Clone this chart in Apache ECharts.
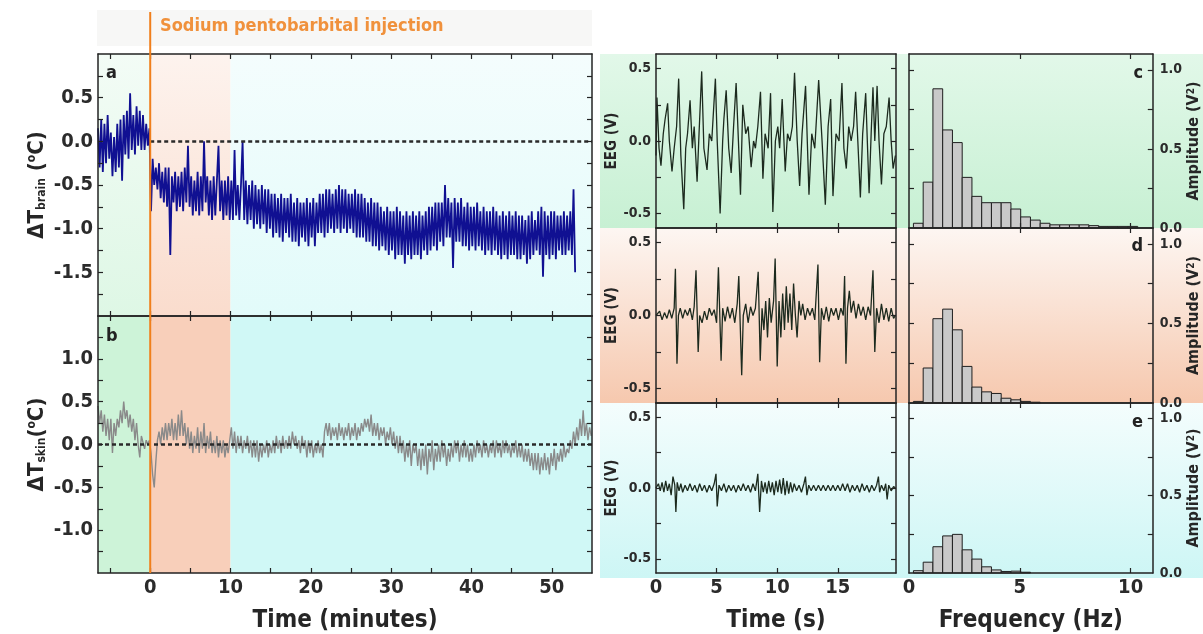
<!DOCTYPE html>
<html>
<head>
<meta charset="utf-8">
<script src="https://cdn.jsdelivr.net/npm/echarts@6/dist/echarts.min.js"></script>
<style>
html,body{margin:0;padding:0;background:#fff;}
#chart{width:1203px;height:634px;}
</style>
</head>
<body>
<div id="chart"></div>
<script>
/********* data *********/
// a: brain temperature (sampled every 0.2 min from -6.5 min)
var brainStart = -6.5, brainStep = 0.2;
var brainTemp = [
	0.15, -0.3, 0.25,
	-0.35, 0.2, -0.25, 0.3, -0.2,
	0.1, -0.4, 0.05, -0.35, 0.2,
	-0.3, 0.25, -0.45, 0.3, -0.15,
	0.35, -0.2, 0.55, -0.1, 0.3,
	-0.15, 0.4, -0.05, 0.35, -0.1,
	0.3, -0.1, 0.2, -0.05, 0.15,
	-0.8, -0.2, -0.5, -0.3, -0.55,
	-0.25, -0.65, -0.35, -0.7, -0.3,
	-0.75, -0.3, -1.3, -0.4, -0.7,
	-0.35, -0.8, -0.4, -0.75, -0.35,
	-0.8, -0.3, -0.7, -0.05, -0.75,
	-0.4, -0.85, -0.45, -0.8, -0.35,
	-0.85, -0.4, -0.8, 0.0, -0.7,
	-0.4, -0.85, -0.45, -0.9, -0.4,
	-0.85, -0.45, -0.05, -0.8, -0.45,
	-0.9, -0.45, -0.85, -0.4, -0.9,
	-0.45, -0.9, -0.1, -0.85, -0.5,
	-0.9, -0.5, 0.0, -0.9, -0.45,
	-0.95, -0.5, -0.9, -0.45, -1.0,
	-0.5, -0.95, -0.55, -1.0, -0.5,
	-0.95, -0.55, -1.05, -0.55, -1.0,
	-0.6, -1.1, -0.6, -1.05, -0.65,
	-1.1, -0.6, -1.15, -0.65, -1.05,
	-0.65, -1.1, -0.6, -1.15, -0.7,
	-1.15, -0.65, -1.2, -0.7, -1.1,
	-0.7, -1.15, -0.65, -1.2, -0.7,
	-1.1, -0.65, -1.2, -0.7, -1.05,
	-0.6, -1.05, -0.6, -1.1, -0.55,
	-1.05, -0.55, -1.0, -0.6, -1.05,
	-0.55, -1.0, -0.5, -1.05, -0.55,
	-1.0, -0.55, -1.05, -0.6, -1.0,
	-0.6, -1.05, -0.55, -1.1, -0.6,
	-1.1, -0.6, -1.1, -0.65, -1.15,
	-0.7, -1.15, -0.65, -1.2, -0.7,
	-1.2, -0.7, -1.25, -0.75, -1.2,
	-0.8, -1.25, -0.75, -1.3, -0.8,
	-1.25, -0.8, -1.35, -0.75, -1.3,
	-0.8, -1.3, -0.85, -1.4, -0.8,
	-1.3, -0.85, -1.35, -0.8, -1.3,
	-0.85, -1.3, -0.8, -1.35, -0.85,
	-1.25, -0.8, -1.3, -0.75, -1.25,
	-0.75, -1.2, -0.7, -1.25, -0.7,
	-1.15, -0.7, -1.2, -0.5, -1.1,
	-0.65, -1.1, -0.7, -1.45, -0.65,
	-1.15, -0.7, -1.15, -0.65, -1.2,
	-0.75, -1.2, -0.7, -1.25, -0.75,
	-1.2, -0.75, -1.25, -0.7, -1.2,
	-0.8, -1.25, -0.75, -1.3, -0.8,
	-1.25, -0.8, -1.3, -0.75, -1.25,
	-0.8, -1.3, -0.85, -1.35, -0.8,
	-1.3, -0.85, -1.35, -0.8, -1.3,
	-0.85, -1.3, -0.8, -1.35, -0.85,
	-1.35, -0.85, -1.3, -0.9, -1.4,
	-0.85, -1.35, -0.8, -1.3, -0.9,
	-1.25, -0.8, -1.3, -0.75, -1.55,
	-0.8, -1.3, -0.85, -1.35, -0.8,
	-1.3, -0.8, -1.35, -0.85, -1.25,
	-0.85, -1.3, -0.8, -1.3, -0.85,
	-1.25, -0.8, -1.3, -0.55, -1.5
];
// b: skin temperature (sampled every 0.2 min from -6.5 min)
var skinStart = -6.5, skinStep = 0.2;
var skinTemp = [
	0.45, 0.25, 0.4,
	0.15, 0.35, 0.1, 0.3, 0.05,
	0.3, -0.1, 0.25, 0.1, 0.3,
	0.2, 0.4, 0.25, 0.5, 0.3,
	0.4, 0.2, 0.35, 0.15, 0.3,
	0.05, 0.25, 0.0, -0.15, 0.1,
	0.1, -0.05, 0.05, 0.0, 0.05,
	-0.1, -0.35, -0.5, -0.2, 0.05,
	0.15, 0.0, 0.2, 0.05, 0.25,
	0.05, 0.25, 0.1, 0.3, 0.05,
	0.25, 0.05, 0.35, 0.1, 0.4,
	0.1, 0.25, 0.0, 0.2, -0.05,
	0.15, -0.1, 0.1, -0.05, 0.2,
	-0.1, 0.15, -0.05, 0.25, -0.1,
	0.1, -0.05, 0.15, -0.1, 0.05,
	-0.1, 0.1, -0.15, 0.05, -0.1,
	0.05, -0.15, 0.0, -0.1, 0.05,
	0.2, -0.05, 0.15, -0.1, 0.1,
	-0.05, 0.1, -0.1, 0.05, -0.05,
	0.1, -0.1, 0.05, -0.15, 0.05,
	-0.15, 0.05, -0.2, 0.0, -0.15,
	0.0, -0.1, 0.05, -0.15, 0.0,
	-0.1, 0.05, -0.1, 0.1, -0.05,
	0.05, -0.1, 0.1, -0.05, 0.05,
	-0.05, 0.1, -0.05, 0.15, 0.0,
	0.1, -0.05, 0.05, -0.1, 0.1,
	-0.05, 0.05, -0.15, 0.05, -0.1,
	0.05, -0.15, 0.0, -0.1, 0.05,
	-0.1, 0.0, -0.15, 0.15, 0.25,
	0.1, 0.25, 0.05, 0.2, 0.1,
	0.2, 0.05, 0.25, 0.1, 0.2,
	0.05, 0.2, 0.1, 0.25, 0.05,
	0.2, 0.1, 0.25, 0.05, 0.2,
	0.1, 0.25, 0.15, 0.3, 0.2,
	0.3, 0.15, 0.35, 0.1, 0.25,
	0.1, 0.25, 0.05, 0.2, 0.1,
	0.2, 0.0, 0.15, 0.05, 0.2,
	0.0, 0.15, -0.05, 0.1, -0.1,
	0.1, -0.1, 0.05, -0.2, 0.0,
	-0.15, 0.05, -0.25, 0.0, -0.1,
	0.0, -0.25, -0.05, -0.3, -0.05,
	-0.25, 0.0, -0.35, -0.05, -0.2,
	0.05, -0.3, -0.05, -0.2, 0.0,
	-0.2, 0.05, -0.15, 0.0, -0.25,
	-0.05, -0.2, 0.0, -0.15, 0.05,
	-0.1, 0.05, -0.2, 0.0, -0.15,
	0.05, -0.15, 0.0, -0.2, -0.05,
	-0.2, 0.0, -0.15, 0.05, -0.1,
	0.0, -0.15, 0.05, -0.1, 0.0,
	-0.15, 0.0, -0.1, 0.05, -0.15,
	0.05, -0.1, 0.0, -0.15, 0.05,
	-0.1, 0.05, -0.1, 0.0, -0.15,
	0.0, -0.1, 0.05, -0.15, 0.0,
	-0.15, 0.0, -0.2, -0.05, -0.2,
	-0.05, -0.25, -0.1, -0.3, -0.1,
	-0.3, -0.1, -0.35, -0.15, -0.3,
	-0.1, -0.3, -0.15, -0.35, -0.1,
	-0.25, -0.05, -0.3, -0.1, -0.2,
	-0.05, -0.2, 0.0, -0.15, -0.05,
	-0.1, 0.05, -0.05, 0.15, 0.0,
	0.2, 0.05, 0.3, 0.1, 0.4,
	0.1, 0.25, 0.05, 0.2, 0.1
];
// c, d, e: EEG traces [time s, V]
var eegAwake = [
	[0.0,-0.1],[0.08,0.3],[0.25,-0.05],[0.41,-0.17],[0.6,0.05],[0.75,0.15],[0.96,0.26],[1.1,0.0],
	[1.32,-0.21],[1.5,-0.05],[1.7,0.1],[1.87,0.43],[2.05,-0.1],[2.29,-0.47],[2.45,-0.05],[2.6,0.05],
	[2.81,0.28],[3.0,-0.05],[3.15,0.1],[3.39,-0.28],[3.55,0.05],[3.77,0.48],[3.95,-0.05],[4.21,-0.2],
	[4.4,0.05],[4.6,0.0],[4.9,0.43],[5.05,0.0],[5.29,-0.5],[5.5,0.0],[5.6,0.15],[5.79,0.35],
	[6.0,-0.05],[6.2,-0.22],[6.4,0.1],[6.61,0.4],[6.8,0.0],[6.97,-0.37],[7.16,0.25],[7.4,0.05],
	[7.6,0.1],[7.85,-0.18],[8.05,0.0],[8.2,-0.05],[8.4,0.1],[8.62,0.34],[8.82,-0.26],[9.0,0.05],
	[9.25,-0.05],[9.45,0.33],[9.64,-0.49],[9.85,0.0],[10.05,0.1],[10.2,-0.05],[10.41,0.29],[10.66,-0.21],
	[10.85,0.05],[11.05,0.0],[11.25,0.1],[11.43,0.47],[11.65,0.0],[11.85,-0.31],[12.05,0.05],[12.34,0.38],
	[12.62,-0.37],[12.85,0.05],[13.1,-0.05],[13.42,0.42],[13.7,0.0],[13.97,-0.44],[14.2,0.1],[14.41,0.29],
	[14.6,-0.38],[14.85,0.05],[15.1,0.0],[15.34,0.4],[15.5,-0.05],[15.7,-0.19],[15.9,0.1],[16.1,0.0],
	[16.3,0.1],[16.47,0.34],[16.65,0.0],[16.86,-0.39],[17.05,0.05],[17.3,0.33],[17.58,-0.36],[17.75,0.05],
	[17.9,0.37],[18.05,0.0],[18.24,0.38],[18.4,0.0],[18.6,-0.3],[18.8,0.05],[19.0,0.1],[19.23,0.3],
	[19.4,0.0],[19.56,-0.19],[19.75,-0.1]
];
var eegInjection = [
	[0.0,0.0],[0.3,0.03],[0.5,-0.03],[0.7,0.02],[0.9,-0.02],[1.1,0.04],[1.3,-0.02],[1.5,0.05],
	[1.6,0.32],[1.73,-0.33],[1.85,0.0],[2.0,0.05],[2.2,-0.02],[2.4,0.04],[2.6,0.0],[2.8,0.05],
	[3.0,-0.03],[3.15,0.06],[3.3,0.31],[3.48,-0.25],[3.6,0.0],[3.8,-0.05],[4.0,0.03],[4.2,-0.03],
	[4.4,0.05],[4.6,0.0],[4.8,0.04],[5.0,-0.05],[5.15,0.33],[5.37,-0.31],[5.5,0.05],[5.7,-0.04],
	[5.9,0.06],[6.1,-0.02],[6.3,0.05],[6.5,-0.05],[6.7,0.08],[6.83,0.27],[7.07,-0.41],[7.2,0.0],
	[7.4,0.08],[7.6,-0.05],[7.8,0.06],[8.0,0.0],[8.2,0.05],[8.43,0.3],[8.6,-0.31],[8.75,0.05],
	[8.9,-0.1],[9.05,0.1],[9.2,-0.15],[9.35,0.12],[9.5,-0.05],[9.7,0.1],[9.83,0.39],[10.0,-0.35],
	[10.15,0.1],[10.3,-0.15],[10.45,0.15],[10.6,-0.1],[10.75,0.2],[10.9,-0.05],[11.05,0.15],[11.2,-0.1],
	[11.35,0.22],[11.5,0.0],[11.64,-0.15],[11.8,0.1],[11.95,0.0],[12.1,0.08],[12.3,-0.03],[12.5,0.05],
	[12.7,0.0],[12.9,0.05],[13.1,-0.03],[13.36,0.35],[13.5,-0.32],[13.65,0.05],[13.85,-0.03],[14.05,0.06],
	[14.25,-0.04],[14.45,0.05],[14.65,0.0],[14.85,0.05],[15.05,-0.03],[15.25,0.05],[15.45,0.0],[15.56,0.27],
	[15.67,-0.33],[15.8,0.05],[15.95,0.17],[16.1,0.02],[16.3,0.1],[16.5,-0.02],[16.7,0.08],[16.9,0.0],
	[17.1,0.06],[17.3,-0.03],[17.5,0.06],[17.7,0.0],[17.9,0.31],[18.05,-0.25],[18.2,0.05],[18.4,-0.05],
	[18.6,0.08],[18.8,-0.03],[19.0,0.05],[19.2,-0.04],[19.4,0.05],[19.6,-0.02],[19.75,0.0]
];
var eegAnesth = [
	[0.0,0.0],[0.2,0.03],[0.35,-0.02],[0.5,0.04],[0.65,-0.03],[0.8,0.05],[0.95,-0.02],[1.1,0.03],
	[1.25,-0.05],[1.4,0.08],[1.55,0.02],[1.64,-0.17],[1.75,0.04],[1.9,-0.02],[2.05,0.03],[2.2,-0.03],
	[2.4,0.02],[2.6,-0.02],[2.8,0.03],[3.0,-0.02],[3.2,0.02],[3.4,-0.03],[3.6,0.03],[3.8,-0.02],
	[4.0,0.02],[4.2,-0.03],[4.4,0.02],[4.6,-0.02],[4.8,0.03],[4.95,0.1],[5.05,-0.13],[5.2,0.02],
	[5.4,-0.02],[5.6,0.03],[5.8,-0.03],[6.0,0.02],[6.2,-0.02],[6.4,0.02],[6.6,-0.03],[6.8,0.02],
	[7.0,-0.02],[7.2,0.03],[7.4,-0.02],[7.6,0.02],[7.8,-0.03],[8.0,0.03],[8.2,-0.02],[8.4,0.1],
	[8.55,-0.17],[8.7,0.05],[8.85,-0.03],[9.0,0.04],[9.15,-0.04],[9.3,0.05],[9.45,-0.03],[9.6,0.04],
	[9.75,-0.05],[9.9,0.05],[10.05,-0.03],[10.2,0.06],[10.35,-0.04],[10.5,0.07],[10.65,-0.05],[10.8,0.05],
	[10.95,-0.04],[11.1,0.04],[11.25,-0.03],[11.4,0.03],[11.6,-0.02],[11.8,0.02],[12.0,-0.03],[12.2,0.03],
	[12.33,0.08],[12.45,-0.05],[12.6,0.02],[12.8,-0.02],[13.0,0.02],[13.2,-0.02],[13.4,0.02],[13.6,-0.02],
	[13.8,0.02],[14.0,-0.02],[14.2,0.02],[14.4,-0.02],[14.6,0.02],[14.8,-0.02],[15.0,0.02],[15.2,-0.02],
	[15.4,0.03],[15.6,-0.02],[15.8,0.03],[16.0,-0.03],[16.2,0.02],[16.4,-0.02],[16.6,0.02],[16.8,-0.03],
	[17.0,0.03],[17.2,-0.02],[17.4,0.02],[17.6,-0.03],[17.8,0.02],[18.0,-0.02],[18.2,0.02],[18.35,0.08],
	[18.45,-0.03],[18.6,0.02],[18.8,-0.02],[18.95,0.03],[19.07,-0.08],[19.2,0.02],[19.4,-0.02],[19.6,0.01],
	[19.75,0.0]
];
// c, d, e: spectra, bins of 0.44 Hz starting at 0.2 Hz
var binStart = 0.2, binWidth = 0.44;
var specAwake = [0.03, 0.29, 0.88, 0.62, 0.54, 0.32, 0.2, 0.16, 0.16, 0.16, 0.12, 0.07, 0.05, 0.03, 0.02, 0.02, 0.02, 0.02, 0.015, 0.01, 0.01, 0.01, 0.01];
var specInjection = [0.01, 0.22, 0.53, 0.59, 0.46, 0.23, 0.1, 0.07, 0.06, 0.03, 0.02, 0.01, 0.005];
var specAnesth = [0.015, 0.07, 0.17, 0.24, 0.25, 0.15, 0.09, 0.04, 0.02, 0.01, 0.012, 0.005];

// phases (minutes) and tick values
var phaseEdges = [-6.5, 0, 10, 55];
var minuteLabels = [0, 10, 20, 30, 40, 50];
var minuteTicks = [-5, 0, 5, 10, 15, 20, 25, 30, 35, 40, 45, 50];
var brainLabels = [-1.5, -1.0, -0.5, 0.0, 0.5];
var brainTicks = [-1.75, -1.5, -1.25, -1.0, -0.75, -0.5, -0.25, 0, 0.25, 0.5, 0.75];
var skinLabels = [-1.0, -0.5, 0.0, 0.5, 1.0];
var skinTicks = [-1.25, -1.0, -0.75, -0.5, -0.25, 0, 0.25, 0.5, 0.75, 1.0, 1.25];
var eegLabels = [-0.5, 0.0, 0.5];
var eegTicks = [-0.5, -0.25, 0, 0.25, 0.5];
var secLabels = [0, 5, 10, 15];
var secTicks = [5, 10, 15];
var hzLabels = [0, 5, 10];
var hzTicks = [5, 10];
var ampLabels = [0.0, 0.5, 1.0];
var ampTicks = [0.25, 0.5, 0.75, 1.0];

/********* helpers *********/
var FONT = "'Liberation Sans Narrow','DejaVu Sans Condensed',sans-serif";
var INK = '#232323';

function sampled(start, step, vals) {
	return vals.map(function (v, i) { return [Math.round((start + i * step) * 100) / 100, v]; });
}
function bins(vals) {
	return vals.map(function (v, i) { var x0 = binStart + i * binWidth; return [x0, x0 + binWidth, v]; });
}
function axis(grid, pos, min, max, ticks, labels, labelSize, fmt) {
	var ax = {
		type: 'value', gridIndex: grid, position: pos, min: min, max: max, z: 20,
		axisLine: { show: true, onZero: false, lineStyle: { color: INK, width: 1.5 } },
		axisTick: { show: true, inside: true, length: 5, customValues: ticks, lineStyle: { color: INK, width: 1.2 } },
		axisLabel: { show: false },
		splitLine: { show: false }
	};
	if (labels) {
		ax.axisLabel = {
			show: true, customValues: labels, color: '#2b2b2b', fontFamily: FONT, fontWeight: 'bold',
			fontSize: labelSize, margin: 5,
			formatter: fmt || function (v) { return String(v); }
		};
	}
	return ax;
}
function oneDec(v) { return v.toFixed(1); }
function yName(text, gap) {
	return {
		name: text, nameLocation: 'middle', nameRotate: 90, nameGap: gap,
		nameTextStyle: {
			color: '#262626', fontFamily: FONT, fontWeight: 'bold',
			rich: {
				m: { fontSize: 22, fontWeight: 'bold', fontFamily: FONT, color: '#262626' },
				s: { fontSize: 12, fontWeight: 'bold', fontFamily: FONT, color: '#262626', verticalAlign: 'bottom' },
				u: { fontSize: 12, fontWeight: 'bold', fontFamily: FONT, color: '#262626', verticalAlign: 'top' },
				e: { fontSize: 15, fontWeight: 'bold', fontFamily: FONT, color: '#262626' },
				amp: { fontSize: 16, fontWeight: 'bold', fontFamily: FONT, color: '#262626' },
				eu: { fontSize: 10, fontWeight: 'bold', fontFamily: FONT, color: '#262626', verticalAlign: 'top' }
			}
		}
	};
}
function xName(text, gap) {
	return {
		name: text, nameLocation: 'middle', nameGap: gap,
		nameTextStyle: { color: '#262626', fontFamily: FONT, fontWeight: 'bold', fontSize: 24 }
	};
}
function merge(a, b) { for (var k in b) a[k] = b[k]; return a; }

/********* layout *********/
var grids = [
	{ left: 98, top: 54, width: 494, height: 262 },   // a
	{ left: 98, top: 316, width: 494, height: 263 },  // b
	{ left: 656, top: 54, width: 240, height: 174 },  // c eeg
	{ left: 656, top: 228, width: 240, height: 175 }, // d eeg
	{ left: 656, top: 403, width: 240, height: 175 }, // e eeg
	{ left: 909, top: 54, width: 244, height: 174 },  // c spectrum
	{ left: 909, top: 228, width: 244, height: 175 }, // d spectrum
	{ left: 909, top: 403, width: 244, height: 175 }  // e spectrum
];

var xAxes = [], yAxes = [];
// a
xAxes.push(axis(0, 'bottom', -6.5, 55, minuteTicks));
xAxes.push(axis(0, 'top', -6.5, 55, minuteTicks));
yAxes.push(merge(axis(0, 'left', -2, 1, brainTicks, brainLabels, 20, oneDec),
	yName('{m|ΔT}{s|brain}{m| (}{u|o}{m|C)}', 50)));
yAxes.push(axis(0, 'right', -2, 1, brainTicks));
// b
xAxes.push(merge(axis(1, 'bottom', -6.5, 55, minuteTicks, minuteLabels, 20), xName('Time (minutes)', 36)));
xAxes.push(axis(1, 'top', -6.5, 55, minuteTicks));
yAxes.push(merge(axis(1, 'left', -1.5, 1.5, skinTicks, skinLabels, 20, oneDec),
	yName('{m|ΔT}{s|skin}{m|(}{u|o}{m|C)}', 50)));
yAxes.push(axis(1, 'right', -1.5, 1.5, skinTicks));
// eeg c, d, e
[2, 3, 4].forEach(function (g) {
	var bottom = axis(g, 'bottom', 0, 19.8, secTicks, g === 4 ? secLabels : null, 20);
	if (g === 4) merge(bottom, xName('Time (s)', 36));
	xAxes.push(bottom);
	xAxes.push(axis(g, 'top', 0, 19.8, secTicks));
	yAxes.push(merge(axis(g, 'left', -0.6, 0.6, eegTicks, eegLabels, 14, oneDec), yName('{e|EEG (V)}', 30)));
	yAxes.push(axis(g, 'right', -0.6, 0.6, eegTicks));
});
// spectra c, d, e
[5, 6, 7].forEach(function (g) {
	var bottom = axis(g, 'bottom', 0, 11, hzTicks, g === 7 ? hzLabels : null, 20);
	if (g === 7) merge(bottom, xName('Frequency (Hz)', 36));
	xAxes.push(bottom);
	xAxes.push(axis(g, 'top', 0, 11, hzTicks));
	yAxes.push(axis(g, 'left', 0, 1.1, ampTicks));
	var right = merge(axis(g, 'right', 0, 1.1, ampTicks, ampLabels, 14, oneDec), yName('{amp|Amplitude (V}{eu|2}{amp|)}', 30));
	right.axisLabel.margin = 7;
	yAxes.push(right);
});

/********* series *********/
var green = '#cdf3d8', salmon = '#f8cfba', cyan = '#d0f8f6';
var greenPale = '#f3fcf6', salmonPale = '#fdf3ee', cyanPale = '#f4fdfd';
function fade(top, c) {
	return { type: 'linear', x: 0, y: 0, x2: 0, y2: 1, colorStops: [{ offset: 0, color: top }, { offset: 1, color: c }] };
}
function phaseAreas(faded) {
	var cols = [green, salmon, cyan];
	var pale = [greenPale, salmonPale, cyanPale];
	var lowA = ['#def7e5', '#fadccd', '#e2fbfa'];
	return {
		silent: true,
		data: cols.map(function (c, i) {
			return [{ xAxis: phaseEdges[i], itemStyle: { color: faded ? fade(pale[i], lowA[i]) : c } }, { xAxis: phaseEdges[i + 1] }];
		})
	};
}
var zeroDash = { color: '#2a2a2a', width: 2.5, type: [4, 3] };

function spectrum(g, vals) {
	return {
		type: 'custom', xAxisIndex: 2 * g, yAxisIndex: 2 * g, silent: true,
		data: bins(vals),
		encode: { x: [0, 1], y: 2 },
		renderItem: function (params, api) {
			var p0 = api.coord([api.value(0), api.value(2)]);
			var p1 = api.coord([api.value(1), 0]);
			return {
				type: 'rect',
				shape: { x: p0[0], y: p0[1], width: p1[0] - p0[0], height: p1[1] - p0[1] },
				style: { fill: '#c9c9c9', stroke: '#1f1f1f', lineWidth: 1 }
			};
		}
	};
}
function eeg(g, pts) {
	return {
		type: 'line', xAxisIndex: 2 * g, yAxisIndex: 2 * g, data: pts, symbol: 'none', silent: true,
		lineStyle: { color: '#1c2a1e', width: 1.3 }
	};
}

var series = [
	{
		type: 'line', xAxisIndex: 0, yAxisIndex: 0, data: sampled(brainStart, brainStep, brainTemp),
		symbol: 'none', silent: true, lineStyle: { color: '#101092', width: 1.8 },
		markArea: phaseAreas(true),
		markLine: { silent: true, symbol: 'none', label: { show: false }, lineStyle: zeroDash,
			data: [[{ coord: [0, 0] }, { coord: [55, 0] }]] }
	},
	{
		type: 'line', xAxisIndex: 2, yAxisIndex: 2, data: sampled(skinStart, skinStep, skinTemp),
		symbol: 'none', silent: true, lineStyle: { color: '#8a8a8a', width: 1.4 },
		markArea: phaseAreas(false),
		markLine: { silent: true, symbol: 'none', label: { show: false }, lineStyle: zeroDash,
			data: [[{ coord: [-6.5, 0] }, { coord: [55, 0] }]] }
	},
	eeg(2, eegAwake), eeg(3, eegInjection), eeg(4, eegAnesth),
	spectrum(5, specAwake), spectrum(6, specInjection), spectrum(7, specAnesth)
];

/********* backgrounds and labels *********/
function rowFill(top, bottom) {
	return { type: 'linear', x: 0, y: 0, x2: 0, y2: 1, colorStops: [{ offset: 0, color: top }, { offset: 1, color: bottom }] };
}
var graphics = [
	{ type: 'rect', z: -1, shape: { x: 97, y: 10, width: 495, height: 36 }, style: { fill: '#f7f7f6' } },
	{ type: 'rect', z: -1, shape: { x: 600, y: 54, width: 603, height: 174 }, style: { fill: rowFill('#e2f8e9', '#c7f0d3') } },
	{ type: 'rect', z: -1, shape: { x: 600, y: 228, width: 603, height: 175 }, style: { fill: rowFill('#fdf6f2', '#f6c8ae') } },
	{ type: 'rect', z: -1, shape: { x: 600, y: 403, width: 603, height: 175 }, style: { fill: rowFill('#f4fdfd', '#cdf6f5') } },
	{ type: 'text', z: 100, style: { x: 160, y: 26, text: 'Sodium pentobarbital injection', fill: '#f0913c', font: 'bold 18px ' + FONT, verticalAlign: 'middle' } },
	{ type: 'text', z: 100, style: { x: 106, y: 73, text: 'a', fill: '#222', font: 'bold 18px ' + FONT, verticalAlign: 'middle' } },
	{ type: 'text', z: 100, style: { x: 106, y: 336, text: 'b', fill: '#222', font: 'bold 18px ' + FONT, verticalAlign: 'middle' } },
	{ type: 'text', z: 100, style: { x: 1143, y: 73, text: 'c', fill: '#222', font: 'bold 18px ' + FONT, align: 'right', verticalAlign: 'middle' } },
	{ type: 'text', z: 100, style: { x: 1143, y: 246, text: 'd', fill: '#222', font: 'bold 18px ' + FONT, align: 'right', verticalAlign: 'middle' } },
	{ type: 'text', z: 100, style: { x: 1143, y: 422, text: 'e', fill: '#222', font: 'bold 18px ' + FONT, align: 'right', verticalAlign: 'middle' } }
];

var chart = echarts.init(document.getElementById('chart'), null, { renderer: 'canvas' });
chart.setOption({
	animation: false,
	backgroundColor: '#ffffff',
	grid: grids,
	xAxis: xAxes,
	yAxis: yAxes,
	series: series,
	graphic: graphics
});

// injection marker: vertical orange line at t = 0 through a and b and up into the header
var x0 = chart.convertToPixel({ xAxisIndex: 0 }, 0);
var yBottom = chart.convertToPixel({ yAxisIndex: 2 }, -1.5);
graphics.push({ type: 'line', z: 100, shape: { x1: x0, y1: 12, x2: x0, y2: yBottom }, style: { stroke: '#f07f1c', lineWidth: 2 } });
chart.setOption({ graphic: graphics });
</script>
</body>
</html>
